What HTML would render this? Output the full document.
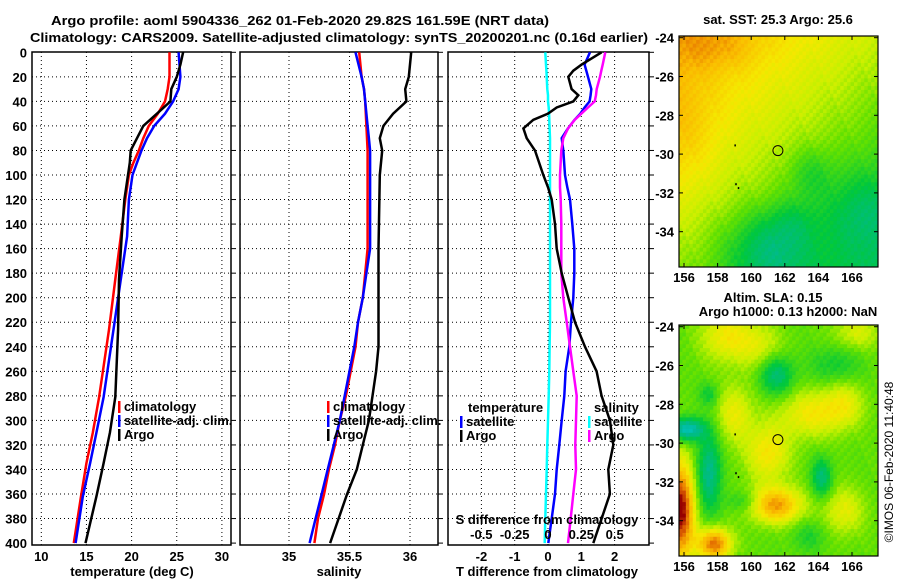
<!DOCTYPE html>
<html><head><meta charset="utf-8"><style>
html,body{margin:0;padding:0;background:#fff}
svg{display:block}
text{font-family:"Liberation Sans",Arial,sans-serif;font-weight:bold;font-size:13px;fill:#000}
</style></head><body>
<svg id="fig" width="900" height="580" viewBox="0 0 900 580">
<text x="300" y="25" text-anchor="middle" textLength="498" lengthAdjust="spacingAndGlyphs">Argo profile: aoml 5904336_262 01-Feb-2020 29.82S 161.59E (NRT data)</text>
<text x="339" y="42" text-anchor="middle" textLength="618" lengthAdjust="spacingAndGlyphs">Climatology: CARS2009. Satellite-adjusted climatology: synTS_20200201.nc (0.16d earlier)</text>
<g id="plots"></g>
</svg>
<script>
// ---------- data ----------
const depthT = [0,10,20,30,40,50,60,70,80,90,100,120,150,185,226,281,310,335,362,400];
const climT  = [24.2,24.2,24.2,24.0,23.7,22.9,21.9,21.3,20.8,20.2,19.7,19.3,18.8,18.2,17.5,16.4,15.7,15.0,14.4,13.6];
const satT   = [25.2,25.3,25.4,25.2,24.6,23.7,22.5,21.7,21.1,20.6,20.1,19.7,19.5,18.8,18.0,16.9,16.1,15.4,14.6,13.8];
const argoT  = [25.7,25.4,25.0,24.4,24.3,22.8,21.3,20.6,19.9,19.8,19.6,19.2,18.9,18.6,18.5,18.2,17.6,16.9,16.1,14.9];

const depthS = [0,20,30,40,50,60,70,80,100,160,180,200,220,240,260,280,300,320,340,360,380,400];
const climS  = [35.58,35.60,35.62,35.63,35.635,35.64,35.645,35.65,35.65,35.65,35.63,35.61,35.57,35.55,35.51,35.47,35.42,35.38,35.33,35.29,35.24,35.21];
const satS   = [35.55,35.60,35.62,35.63,35.64,35.65,35.66,35.67,35.67,35.67,35.64,35.61,35.57,35.54,35.50,35.46,35.42,35.37,35.32,35.27,35.22,35.17];
const argoS  = [36.01,35.99,35.96,35.97,35.86,35.78,35.75,35.77,35.75,35.74,35.74,35.74,35.74,35.74,35.72,35.69,35.66,35.61,35.56,35.48,35.41,35.34];

const depthD = [0,10,15,20,30,35,40,45,50,55,62,70,80,100,110,120,140,160,180,200,220,240,260,280,300,320,340,360,380,400];
const tDiffSat  = [1.26,1.1,1.15,1.2,1.3,1.28,1.25,1.1,0.97,0.8,0.6,0.41,0.46,0.51,0.58,0.66,0.73,0.79,0.79,0.76,0.69,0.64,0.53,0.49,0.41,0.34,0.26,0.21,0.11,0.01];
const tDiffArgo = [1.61,1.01,0.76,0.61,0.71,0.91,0.76,0.26,0.0,-0.44,-0.74,-0.64,-0.39,-0.14,0.0,0.11,0.21,0.26,0.41,0.61,0.81,1.11,1.46,1.61,1.86,1.96,1.81,1.86,1.61,1.36];
const sDiffSat  = [-0.02,-0.015,-0.012,-0.01,-0.005,0,0,0.005,0.008,0.01,0.012,0.015,0.015,0.015,0.015,0.015,0.015,0.015,0.015,0.015,0.015,0.012,0.01,0.005,0,-0.005,-0.01,-0.015,-0.02,-0.025];
const sDiffArgo = [0.43,0.41,0.40,0.39,0.365,0.36,0.35,0.3,0.25,0.2,0.15,0.115,0.10,0.09,0.09,0.095,0.1,0.1,0.1,0.115,0.14,0.165,0.19,0.215,0.21,0.205,0.21,0.19,0.17,0.15];

const depthTicks = [0,20,40,60,80,100,120,140,160,180,200,220,240,260,280,300,320,340,360,380,400];
const tTicks = [10,15,20,25,30];
const sTicks = [35,35.5,36];
const dTicks = [-2,-1,0,1,2];
const sdTicks = [-0.5,-0.25,0,0.25,0.5];
const latTicks = [-24,-26,-28,-30,-32,-34];
const lonTicks = [156,158,160,162,164,166];
const argoLon = 161.59, argoLat = -29.82;

// ---------- helpers ----------
const NS='http://www.w3.org/2000/svg';
const root=document.getElementById('plots');
function el(tag,attrs,parent){const e=document.createElementNS(NS,tag);for(const k in attrs)e.setAttribute(k,attrs[k]);(parent||root).appendChild(e);return e;}
function txt(x,y,s,anchor,parent){const t=el('text',{x:x,y:y,'text-anchor':anchor||'middle'},parent);t.textContent=s;return t;}
const yD = d => 52.3 + d*1.227;
const PY0=52, PY1=545;

function panel(name,x0,x1,xs,ticks,fmt,showY){
  const g=el('g',{});
  
  
  depthTicks.forEach(d=>{ if(d>0&&d<400) el('line',{x1:x0,x2:x1,y1:yD(d),y2:yD(d),stroke:'#000','stroke-dasharray':'1 3'},g);
    el('line',{x1:x1,x2:x1+5,y1:yD(d),y2:yD(d),stroke:'#000'},g);
    if(showY){const t=txt(x0-5,yD(d)+5,String(d),'end',g);}});
  ticks.forEach(v=>{const x=xs(v); el('line',{x1:x,x2:x,y1:PY0,y2:PY1,stroke:'#000','stroke-dasharray':'1 3'},g);
    const t=txt(x,561,fmt(v),'middle',g);});
  el('rect',{x:x0,y:PY0,width:x1-x0,height:PY1-PY0,fill:'none',stroke:'#000','stroke-width':1.5},g);
  return g;
}
function series(g,name,depths,vals,xs,color){
  const pts=depths.map((d,i)=>xs(vals[i]).toFixed(1)+','+yD(d).toFixed(1)).join(' ');
  const p=el('polyline',{points:pts,fill:'none',stroke:color,'stroke-width':2.5},g);
  
  
}
function legend(g,x,y,items){
  items.forEach((it,i)=>{
    el('rect',{x:x,y:y+i*14-10,width:2.5,height:12,fill:it[1]},g);
    const t=txt(x+6,y+i*14,it[0],'start',g);
    
    
  });
}

// Panel 1 temperature
const xT = v => 41.3 + (v-10)*9.03;
const g1=panel('temperature-panel',32,231,xT,tTicks,String,true);
series(g1,'climatology-temperature',depthT,climT,xT,'#f00');
series(g1,'satellite-temperature',depthT,satT,xT,'#00f');
series(g1,'argo-temperature',depthT,argoT,xT,'#000');
legend(g1,118,411,[['climatology','#f00'],['satellite-adj. clim.','#00f'],['Argo','#000']]);
const l1=txt(132,576,'temperature (deg C)');

// Panel 2 salinity
const xS = v => 289 + (v-35)*121;
const g2=panel('salinity-panel',240,438,xS,sTicks,String,false);
series(g2,'climatology-salinity',depthS,climS,xS,'#f00');
series(g2,'satellite-salinity',depthS,satS,xS,'#00f');
series(g2,'argo-salinity',depthS,argoS,xS,'#000');
legend(g2,327,411,[['climatology','#f00'],['satellite-adj. clim.','#00f'],['Argo','#000']]);
const l2=txt(339,576,'salinity');

// Panel 3 differences
const xDT = v => 548 + v*33.3;
const xDS = v => 548 + v*133.3;
const g3=panel('difference-panel',448,649,xDT,dTicks,String,false);
series(g3,'salinity-diff-satellite',depthD,sDiffSat,xDS,'#0ff');
series(g3,'temperature-diff-satellite',depthD,tDiffSat,xDT,'#00f');
series(g3,'salinity-diff-argo',depthD,sDiffArgo,xDS,'#f0f');
series(g3,'temperature-diff-argo',depthD,tDiffArgo,xDT,'#000');
txt(468,412,'temperature','start',g3);
legend(g3,460,426,[['satellite','#00f'],['Argo','#000']]);
txt(594,412,'salinity','start',g3);
legend(g3,588,426,[['satellite','#0ff'],['Argo','#f0f']]);
const st=txt(547,524,'S difference from climatology');
sdTicks.forEach(v=>{const t=txt(xDS(v),539,String(v),'middle');});
const l3=txt(547,576,'T difference from climatology');

// ---------- maps ----------
const stops=[[0,[0,205,215]],[0.15,[0,185,150]],[0.3,[0,200,60]],[0.45,[100,225,0]],[0.55,[200,240,0]],[0.65,[245,232,0]],[0.78,[250,185,0]],[0.9,[225,100,0]],[1,[150,0,0]]];
function cmap(v){v=Math.max(0,Math.min(1,v));for(let i=1;i<stops.length;i++){if(v<=stops[i][0]){const a=stops[i-1],b=stops[i],f=(v-a[0])/(b[0]-a[0]);return 'rgb('+a[1].map((c,k)=>Math.round(c+(b[1][k]-c)*f)).join(',')+')';}}return 'rgb(150,0,0)';}
const sstBlobs=[[161,-35,-0.2,2.5,2.0],[166.5,-33,-0.12,2,2],[156,-29,0.08,2.0,3],[163.5,-31,-0.1,1.3,1.3],[158,-24.5,0.08,2.5,1.2],[162.5,-33.5,-0.08,1.5,1.2]];
const slaBlobs=[[158.5,-24.5,0.2,1.5,1.3],[159,-28.5,0.18,1.1,1.5],[161,-30.5,0.22,1.3,1.5],[163.5,-28.5,0.2,1.8,1.2],[165.5,-28,0.17,1.2,1.2],[157.8,-35.2,0.45,1,0.8],[161.5,-33.2,0.38,1.5,0.9],[165.5,-33.5,0.17,1.2,1.2],[160.5,-25,0.14,1.3,1.2],[166.3,-24.3,0.14,1.4,0.9],[155.8,-33.5,0.58,0.8,2.5],[156.2,-29.3,-0.38,1,0.6],[157.5,-31.5,-0.28,0.7,2],[161.5,-26.5,-0.24,1,1],[164.2,-31.8,-0.24,0.6,1],[157.5,-27.5,-0.13,0.6,0.6],[165,-26,-0.12,1.5,1],[163.5,-34.8,-0.1,1,0.8],[159.5,-33,-0.1,1,0.5]];
function field(blobs,base,lon,lat){let v=base;blobs.forEach(b=>{const dx=(lon-b[0])/b[3],dy=(lat-b[1])/b[4];v+=b[2]*Math.exp(-(dx*dx+dy*dy));});return v;}
const sstBase=(lon,lat)=>0.58+0.025*(lat+29)-0.02*(lon-160);
function drawMap(name,top,fieldFn){
  const g=el('g',{});
  
  
  const x0=679,x1=878,y1=top+231;
  const xl=lon=>684+(lon-156)*16.8, yl=lat=>top+1.7+(-24-lat)*19.4;
  const lon0=156-(684-x0)/16.8, lat0=-24+1.7/19.4;
  const nx=58,ny=60,cw=(x1-x0)/nx,ch=(y1-top)/ny;
  for(let i=0;i<nx;i++)for(let j=0;j<ny;j++){
    const lon=lon0+(i+0.5)*cw/16.8, lat=lat0-(j+0.5)*ch/19.4;
    const n=(((i*7919+j*104729)%97)/97-0.5)*0.05;
    el('rect',{x:(x0+i*cw).toFixed(2),y:(top+j*ch).toFixed(2),width:(cw+0.4).toFixed(2),height:(ch+0.4).toFixed(2),fill:cmap(fieldFn(lon,lat)+n)},g);
  }
  el('rect',{x:x0,y:top,width:x1-x0,height:y1-top,fill:'none',stroke:'#000','stroke-width':1.2},g);
  latTicks.forEach(l=>{const y=yl(l);el('line',{x1:x0,x2:x0+4,y1:y,y2:y,stroke:'#000'},g);el('line',{x1:x1,x2:x1-4,y1:y,y2:y,stroke:'#000'},g);txt(x0-5,y+5,String(l),'end',g);});
  lonTicks.forEach(l=>{const x=xl(l);el('line',{x1:x,x2:x,y1:top,y2:top+4,stroke:'#000'},g);el('line',{x1:x,x2:x,y1:y1,y2:y1-4,stroke:'#000'},g);txt(x,y1+15,String(l),'middle',g);});
  [[159,-29.5],[159.05,-31.5],[159.2,-31.7]].forEach(p=>el('rect',{x:xl(p[0]),y:yl(p[1]),width:1.5,height:2,fill:'#000'},g));
  const c=el('circle',{cx:xl(argoLon),cy:yl(argoLat),r:5,fill:'none',stroke:'#000','stroke-width':1},g);
  
  
  return g;
}
drawMap('sst-map',36,(lon,lat)=>field(sstBlobs,sstBase(lon,lat),lon,lat));
drawMap('sla-map',325,(lon,lat)=>field(slaBlobs,0.44,lon,lat));
const t1=txt(778,24,'sat. SST: 25.3 Argo: 25.6');
const t2=txt(773,302,'Altim. SLA: 0.15');
const t3=txt(788,316,'Argo h1000: 0.13 h2000: NaN');
const cr=el('text',{x:0,y:0,'text-anchor':'middle',transform:'translate(893,462) rotate(-90)',style:'font-weight:normal;font-size:12px'});
cr.textContent='©IMOS 06-Feb-2020 11:40:48';


</script>
</body></html>
